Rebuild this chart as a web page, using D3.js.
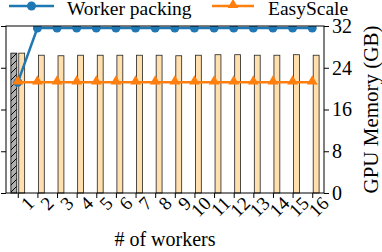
<!DOCTYPE html>
<html>
<head>
<meta charset="utf-8">
<script src="https://cdn.jsdelivr.net/npm/d3@7"></script>
<style>
  body { margin: 0; background: #fff; }
  svg text { font-family: "Liberation Serif", "DejaVu Serif", serif; fill: #000; }
</style>
</head>
<body>
<div class="svg-container"></div>
<script>
// data
const workers = [1, 2, 3, 4, 5, 6, 7, 8, 9, 10, 11, 12, 13, 14, 15, 16];
const packingBar = [26.8];  // hatched gray bar, only for 1 worker
const easyScaleBar = [26.8, 26.4, 26.3, 26.4, 26.4, 26.4, 26.4, 26.4, 26.3, 26.4, 26.5, 26.5, 26.4, 26.4, 26.5, 26.4];
const workerPacking = [21.2, 31.6, 31.6, 31.6, 31.6, 31.6, 31.6, 31.6, 31.6, 31.6, 31.6, 31.6, 31.6, 31.6, 31.6, 31.6];
const easyScale = [21.2, 21.2, 21.2, 21.2, 21.2, 21.2, 21.2, 21.2, 21.2, 21.2, 21.2, 21.2, 21.2, 21.2, 21.2, 21.2];
const yTicks = [0, 8, 16, 24, 32];

const width = 382;
const height = 252;
const plot = { left: 6, right: 324, top: 26, bottom: 193 };
const blue = '#1f77b4';
const orange = '#ff7f0e';
const barW = 0.3;

const svg = d3.select('.svg-container')
  .append('svg')
  .attr('width', width)
  .attr('height', height);

const x = d3.scaleLinear().domain([0.4, 16.6]).range([plot.left, plot.right]);
const y = d3.scaleLinear().domain([0, 32]).range([plot.bottom, plot.top]);

// hatch for the packing bar
const defs = svg.append('defs');
const pat = defs.append('pattern')
  .attr('id', 'hatch')
  .attr('patternUnits', 'userSpaceOnUse')
  .attr('width', 7).attr('height', 7);
pat.append('rect').attr('width', 7).attr('height', 7).attr('fill', '#b0b0b0');
pat.append('path').attr('d', 'M-1,1 l2,-2 M0,7 l7,-7 M6,8 l2,-2')
  .attr('stroke', '#000').attr('stroke-width', 1);

defs.append('clipPath').attr('id', 'clip')
  .append('rect')
  .attr('x', plot.left).attr('y', plot.top)
  .attr('width', plot.right - plot.left).attr('height', plot.bottom - plot.top);

// bars
svg.selectAll('.bar-pack')
  .data(packingBar)
  .enter()
  .append('rect')
  .attr('class', 'bar-pack')
  .attr('x', (d, i) => x(workers[i] - 0.2 - barW / 2))
  .attr('width', x(barW) - x(0))
  .attr('y', d => y(d))
  .attr('height', d => y(0) - y(d))
  .attr('fill', 'url(#hatch)')
  .attr('stroke', '#000')
  .attr('stroke-width', 0.8);

svg.selectAll('.bar-es')
  .data(easyScaleBar)
  .enter()
  .append('rect')
  .attr('class', 'bar-es')
  .attr('x', (d, i) => x(workers[i] + 0.2 - barW / 2))
  .attr('width', x(barW) - x(0))
  .attr('y', d => y(d))
  .attr('height', d => y(0) - y(d))
  .attr('fill', '#ffdfae')
  .attr('stroke', '#222')
  .attr('stroke-width', 0.8);

// lines
const lineGen = d3.line().x((d, i) => x(workers[i])).y(d => y(d));
const lines = svg.append('g').attr('clip-path', 'url(#clip)');

lines.append('path')
  .datum(workerPacking)
  .attr('d', lineGen)
  .attr('fill', 'none')
  .attr('stroke', blue)
  .attr('stroke-width', 2.5);
lines.selectAll('.pt-pack')
  .data(workerPacking)
  .enter()
  .append('circle')
  .attr('cx', (d, i) => x(workers[i]))
  .attr('cy', d => y(d))
  .attr('r', 4.5)
  .attr('fill', blue);

lines.append('path')
  .datum(easyScale)
  .attr('d', lineGen)
  .attr('fill', 'none')
  .attr('stroke', orange)
  .attr('stroke-width', 2.5);
const tri = d3.symbol().type(d3.symbolTriangle).size(50);
lines.selectAll('.pt-es')
  .data(easyScale)
  .enter()
  .append('path')
  .attr('d', tri)
  .attr('transform', (d, i) => `translate(${x(workers[i])},${y(d) - 1})`)
  .attr('fill', orange);

// frame
svg.append('rect')
  .attr('x', plot.left).attr('y', plot.top)
  .attr('width', plot.right - plot.left).attr('height', plot.bottom - plot.top)
  .attr('fill', 'none')
  .attr('stroke', '#000')
  .attr('stroke-width', 1);

// axes
const right = svg.append('g')
  .attr('transform', `translate(${plot.right},0)`)
  .call(d3.axisRight(y).tickValues(yTicks).tickSize(5).tickPadding(3));
right.select('.domain').remove();
right.selectAll('text').style('font-size', '20px');

const left = svg.append('g')
  .attr('transform', `translate(${plot.left},0)`)
  .call(d3.axisLeft(y).tickValues(yTicks).tickSize(5).tickFormat(''));
left.select('.domain').remove();

const bottom = svg.append('g')
  .attr('transform', `translate(0,${plot.bottom})`)
  .call(d3.axisBottom(x).tickValues(workers).tickSize(5).tickFormat(d3.format('d')));
bottom.select('.domain').remove();
bottom.selectAll('text')
  .style('font-size', '19px')
  .attr('text-anchor', 'end')
  .attr('dy', '0.7em')
  .attr('y', 7)
  .attr('x', 4)
  .attr('transform', 'rotate(-45)');

// axis titles
svg.append('text')
  .attr('transform', `translate(378,${(plot.top + plot.bottom) / 2}) rotate(-90)`)
  .attr('text-anchor', 'middle')
  .style('font-size', '21px')
  .text('GPU Memory (GB)');

svg.append('text')
  .attr('x', 165)
  .attr('y', 246)
  .attr('text-anchor', 'middle')
  .style('font-size', '20px')
  .text('# of workers');

// legend
const legend = svg.append('g');
legend.append('line')
  .attr('x1', 9).attr('x2', 54).attr('y1', 6).attr('y2', 6)
  .attr('stroke', blue).attr('stroke-width', 2.5);
legend.append('circle').attr('cx', 31.5).attr('cy', 6).attr('r', 4.5).attr('fill', blue);
legend.append('text').attr('x', 67).attr('y', 15).style('font-size', '19.5px').text('Worker packing');

legend.append('line')
  .attr('x1', 212).attr('x2', 254).attr('y1', 6).attr('y2', 6)
  .attr('stroke', orange).attr('stroke-width', 2.5);
legend.append('path').attr('d', tri).attr('transform', 'translate(233,5)').attr('fill', orange);
legend.append('text').attr('x', 268).attr('y', 15).style('font-size', '19.5px').text('EasyScale');
</script>
</body>
</html>
